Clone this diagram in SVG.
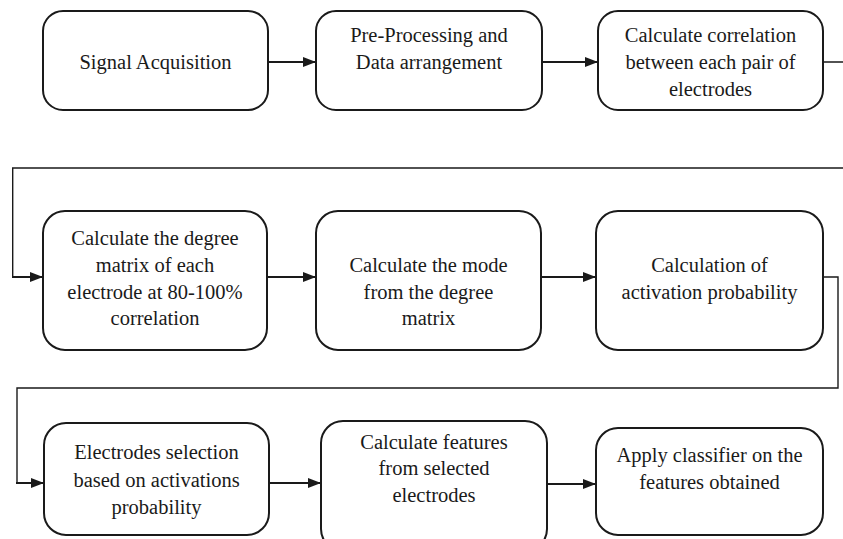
<svg xmlns="http://www.w3.org/2000/svg" width="843" height="539" viewBox="0 0 843 539">
<style>
  .box { fill: #ffffff; stroke: #1a1a1a; stroke-width: 2; }
  .t { font-family: 'Liberation Serif', 'DejaVu Serif', serif; font-size: 20.5px; fill: #1a1a1a; text-anchor: middle; }
  .route { fill: none; stroke: #1a1a1a; stroke-width: 1.4; }
  .arr { fill: none; stroke: #1a1a1a; stroke-width: 2; marker-end: url(#ah); }
</style>
<defs>
  <marker id="ah" markerWidth="13" markerHeight="10" refX="13" refY="5" orient="auto" markerUnits="userSpaceOnUse">
    <path d="M0,0 L13,5 L0,10 Z" fill="#1a1a1a"/>
  </marker>
</defs>
<rect width="843" height="539" fill="#ffffff"/>

<g id="connectors">
  <line class="arr" x1="268" y1="62" x2="316" y2="62"/>
  <line class="arr" x1="542" y1="62" x2="598" y2="62"/>
  <path class="route" d="M823,62 H846 V168 H12.7 V277 H30"/>
  <line class="arr" x1="12" y1="277" x2="43" y2="277"/>
  <line class="arr" x1="267" y1="277" x2="316" y2="277"/>
  <line class="arr" x1="541" y1="277" x2="596" y2="277"/>
  <path class="route" d="M823,277 H838 V388 H17 V483 H30"/>
  <line class="arr" x1="16" y1="483" x2="44" y2="483"/>
  <line class="arr" x1="269" y1="483" x2="321" y2="483"/>
  <line class="arr" x1="547" y1="484" x2="596" y2="484"/>
</g>

<g id="n1">
  <rect class="box" x="43" y="11" width="225" height="99" rx="20" ry="20"/>
  <text class="t" x="155.5" y="69">Signal Acquisition</text>
</g>
<g id="n2">
  <rect class="box" x="316" y="11" width="226" height="99" rx="20" ry="20"/>
  <text class="t" x="429" y="42">Pre-Processing and</text>
  <text class="t" x="429" y="69">Data arrangement</text>
</g>
<g id="n3">
  <rect class="box" x="598" y="11" width="225" height="99" rx="20" ry="20"/>
  <text class="t" x="710.5" y="42">Calculate correlation</text>
  <text class="t" x="710.5" y="69">between each pair of</text>
  <text class="t" x="710.5" y="96">electrodes</text>
</g>

<g id="n4">
  <rect class="box" x="43" y="211" width="224" height="139" rx="22" ry="22"/>
  <text class="t" x="155" y="245">Calculate the degree</text>
  <text class="t" x="155" y="272">matrix of each</text>
  <text class="t" x="155" y="299">electrode at 80-100%</text>
  <text class="t" x="155" y="325">correlation</text>
</g>
<g id="n5">
  <rect class="box" x="316" y="211" width="225" height="139" rx="22" ry="22"/>
  <text class="t" x="428.5" y="272">Calculate the mode</text>
  <text class="t" x="428.5" y="299">from the degree</text>
  <text class="t" x="428.5" y="325">matrix</text>
</g>
<g id="n6">
  <rect class="box" x="596" y="211" width="227" height="139" rx="22" ry="22"/>
  <text class="t" x="709.5" y="272">Calculation of</text>
  <text class="t" x="709.5" y="299">activation probability</text>
</g>

<g id="n7">
  <rect class="box" x="44" y="423" width="225" height="112" rx="22" ry="22"/>
  <text class="t" x="156.5" y="459">Electrodes selection</text>
  <text class="t" x="156.5" y="487">based on activations</text>
  <text class="t" x="156.5" y="514">probability</text>
</g>
<g id="n8">
  <rect class="box" x="321" y="421" width="226" height="130" rx="22" ry="22"/>
  <text class="t" x="434" y="449">Calculate features</text>
  <text class="t" x="434" y="475">from selected</text>
  <text class="t" x="434" y="502">electrodes</text>
</g>
<g id="n9">
  <rect class="box" x="596" y="428" width="227" height="107" rx="22" ry="22"/>
  <text class="t" x="709.5" y="462">Apply classifier on the</text>
  <text class="t" x="709.5" y="489">features obtained</text>
</g>
</svg>
